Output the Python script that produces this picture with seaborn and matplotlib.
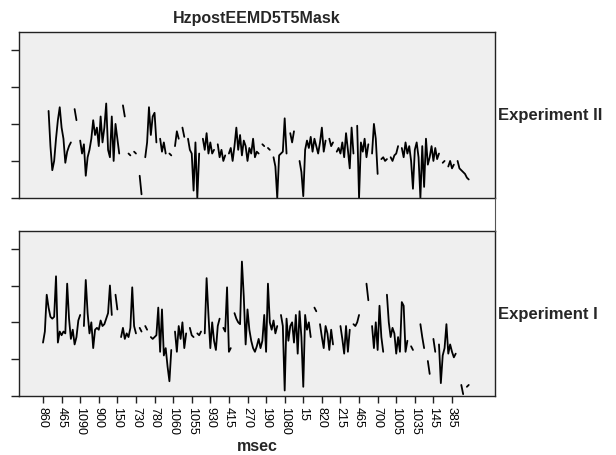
import numpy as np
import pandas as pd
import matplotlib
matplotlib.use("Agg")
import matplotlib.pyplot as plt
from matplotlib.lines import Line2D
import seaborn as sns

nan = np.nan

title = "HzpostEEMD5T5Mask"
panel_names = ["Experiment II", "Experiment I"]
xlabel = "msec"

# shown category labels, one every 10 categories
tick_labels = ["860", "465", "1090", "900", "150", "730", "780", "1060", "1055",
               "930", "415", "270", "190", "1080", "15", "820", "215", "465",
               "700", "1005", "1035", "145", "385"]
tick_every = 10

# one row per labelled interval
exp2 = [nan, nan, nan, 2.35, 1.4, 0.75, 1.0, 1.6, 2.1, 2.45,
        1.9, 1.6, 0.95, 1.25, 1.4, 1.5, nan, 2.4, 2.1, nan,
        1.55, 1.2, 1.45, 0.6, 1.1, 1.3, 1.6, 2.1, 1.7, 1.9,
        1.4, 2.2, 1.5, 1.9, 2.55, 1.3, 1.1, 2.2, 1.0, 2.0,
        1.6, 1.2, nan, 2.5, 2.2, nan, 1.2, 1.15, nan, 1.25,
        1.2, nan, 0.6, 0.1, nan, 1.1, 1.5, 2.45, 1.7, 2.2,
        2.3, 1.5, nan, 1.6, 1.25, 1.5, 1.2, nan, 1.2, 1.15,
        nan, 1.4, 1.8, 1.6, nan, 1.9, 1.65, nan, 1.6, 1.3,
        1.2, 0.2, 1.5, 0.0, 1.2, nan, 1.6, 1.3, 1.75, 1.2,
        1.5, 1.2, 1.3, nan, 1.45, 1.1, 1.3, 1.0, 1.15, nan,
        1.2, 1.35, 1.0, 1.4, 1.9, 1.3, 1.7, 1.15, 1.55, 1.4,
        1.0, 1.35, 1.2, 1.6, 1.1, 1.25, 1.2, nan, 1.45, 1.4,
        nan, 1.35, 1.3, nan, 1.1, 0.85, 0.0, 1.15, 1.2, 1.25,
        2.15, 1.2, nan, 1.75, 1.5, 1.8, nan, nan, 1.0, 0.7,
        0.05, 1.3, 1.55, 1.35, 1.65, 1.25, 1.6, 1.4, 1.2, 1.5,
        1.9, 1.25, 1.55, nan, 1.6, 1.4, 1.5, nan, 1.25, 1.35,
        1.2, 1.5, 1.1, 1.75, 1.3, 0.8, 1.9, 1.2, nan, 1.95,
        0.0, 1.5, 1.25, 1.6, 1.1, 1.45, nan, 1.2, 2.0, 1.6,
        0.65, nan, 1.05, 1.1, 1.0, 1.05, nan, 1.1, 1.0, 1.15,
        1.2, 1.4, nan, 1.35, 1.1, 1.5, 1.2, 1.4, 1.0, 0.25,
        1.3, 1.5, 1.1, 0.0, 1.4, 0.3, 1.6, 0.9, 1.1, 1.4,
        1.0, 1.35, 1.05, 1.2, nan, 0.95, 1.0, nan, 0.85, 1.0,
        0.8, 0.9, nan, 1.0, 0.8, 0.75, 0.7, 0.65, 0.55, 0.5,
        nan]

exp1 = [1.45, 1.75, 2.75, 2.4, 2.15, 2.1, 2.15, 3.25, 1.45, 1.75,
        1.65, 1.75, 1.7, 3.05, 2.1, 1.55, 1.8, 1.4, 1.6, 2.05,
        2.2, nan, 1.9, 3.15, 2.25, 1.7, 2.0, 1.3, 1.8, 1.85,
        1.8, 2.05, 1.9, 1.95, 2.1, 2.25, 3.0, 2.2, nan, 2.75,
        2.35, nan, 1.6, 1.85, 1.55, 1.7, 1.6, 1.85, 2.95, 1.9,
        1.7, nan, 1.85, 1.75, nan, 1.9, 1.8, nan, 1.6, 1.55,
        1.6, 1.65, 2.4, 1.2, 2.35, 1.1, 1.3, 0.8, 0.4, 1.25,
        nan, 1.75, 1.2, 1.9, 1.55, 2.0, 1.3, 1.7, nan, 1.85,
        1.65, 1.6, nan, 1.7, 1.65, 1.75, nan, 1.7, 3.2, 2.2,
        1.3, 2.0, 1.5, 1.25, 1.9, 2.1, nan, 1.85, 1.75, 2.95,
        1.2, 1.3, nan, 2.25, 2.1, 2.0, 1.95, 3.65, 2.7, 1.4,
        2.35, 1.8, 1.5, 1.3, 1.2, 1.35, 1.55, 1.3, 1.5, 2.2,
        1.2, 3.05, 2.0, 1.8, 2.05, 1.7, 1.9, nan, 2.2, 1.9,
        0.15, 2.1, 1.5, 1.9, 2.0, 1.45, 2.2, 1.15, 2.3, 1.6,
        0.25, 2.2, 1.8, 2.0, 1.6, nan, 2.4, 2.3, nan, 1.95,
        1.6, 1.3, 1.9, 1.7, 1.25, 1.8, 1.4, nan, 2.35, nan,
        1.9, 1.55, 1.15, 1.9, 1.2, 1.8, nan, 1.95, 1.9, 2.0,
        2.2, nan, 2.25, nan, 3.05, 2.6, nan, 1.9, 1.3, 2.0,
        1.25, 2.45, 1.6, 1.2, nan, 2.75, 2.0, 1.6, 1.85, 1.7,
        1.15, 1.6, 1.2, 2.55, 2.45, 1.2, 1.5, nan, 1.35, 1.25,
        nan, 1.45, nan, 1.95, 1.6, 1.3, nan, 0.95, 0.6, nan,
        1.55, 1.2, nan, 1.4, 0.35, 1.1, 1.3, 1.95, 1.15, 1.4,
        1.2, 1.05, 1.15, nan, nan, 0.3, 0.05, nan, 0.25, 0.3,
        nan]


def to_frame(values):
    # split the series at missing values so the line keeps its gaps
    df = pd.DataFrame({"idx": np.arange(len(values)), "val": values})
    df["seg"] = df["val"].isna().cumsum()
    return df.dropna()


sns.set_style("white")
plt.rcParams["font.family"] = ["Liberation Sans", "DejaVu Sans"]

fig = plt.figure(figsize=(6.16, 4.56), dpi=100)
ax_top = fig.add_axes([19 / 616, 1 - 199 / 456, 476 / 616, 166 / 456])
ax_bot = fig.add_axes([19 / 616, 1 - 397 / 456, 476 / 616, 165 / 456])

step = 409 / 220.0
xlim = ((19 - 43) / step, (495 - 43) / step)
ticks = np.arange(len(tick_labels)) * tick_every

for ax, values, name in [(ax_top, exp2, panel_names[0]), (ax_bot, exp1, panel_names[1])]:
    sns.lineplot(data=to_frame(values), x="idx", y="val", units="seg",
                 estimator=None, color="black", linewidth=1.3, ax=ax)
    ax.set_facecolor("#efefef")
    ax.set_xlim(*xlim)
    ax.set_ylim(0, 4.48)
    ax.set_yticks([0, 1, 2, 3, 4])
    ax.set_yticklabels([])
    ax.set_xlabel("")
    ax.set_ylabel("")
    for sp in ax.spines.values():
        sp.set_color("#222222")
        sp.set_linewidth(1.0)
    ax.tick_params(axis="y", left=True, length=6, width=1, color="#222222")
    pos = ax.get_position()
    fig.text(498 / 616, pos.y0 + pos.height / 2, name, fontsize=12,
             fontweight="bold", ha="left", va="center")

ax_top.set_xticks([])
ax_bot.set_xticks(ticks)
ax_bot.set_xticklabels(tick_labels, rotation=-90, fontsize=9, color="black")
ax_bot.tick_params(axis="x", bottom=True, length=5, width=1, color="#222222", pad=2)

ax_top.set_title(title, fontsize=11.5, fontweight="bold", pad=7)
fig.text(257 / 616, 1 - 447 / 456, xlabel, fontsize=11.5, fontweight="bold",
         ha="center", va="center")

# thin divider on the right between the two panels
fig.add_artist(Line2D([495 / 616, 495 / 616], [1 - 199 / 456, 1 - 232 / 456],
                      color="#555555", linewidth=0.8))

fig.savefig("out.png", dpi=100)
